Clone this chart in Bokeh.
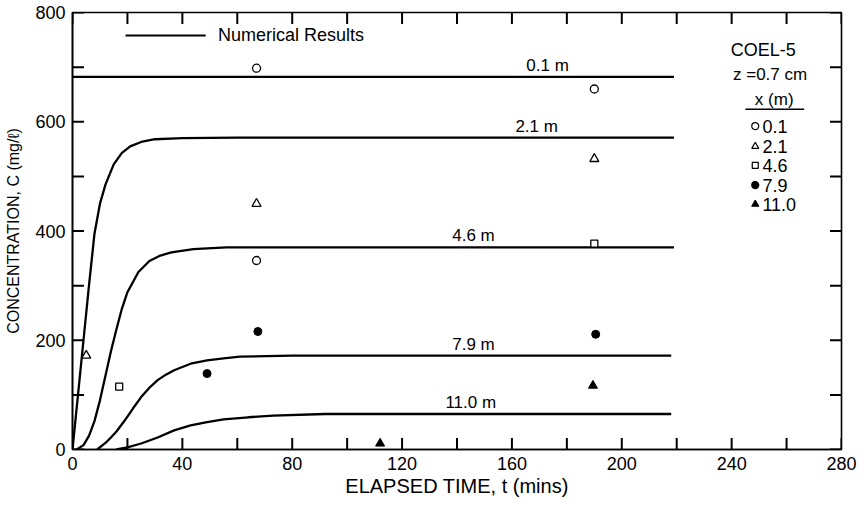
from bokeh.plotting import figure
from bokeh.models import FixedTicker, Range1d, ColumnDataSource
from bokeh.core.properties import value
from bokeh.embed import file_html
from bokeh.resources import INLINE

FONT = "Liberation Sans"

# ---- numerical results (concentration mg/l vs elapsed time, mins) ----
t_01 = [0, 219]
c_01 = [682, 682]

t_21 = [0, 2, 4, 6, 8, 10, 12, 15, 18, 21, 25, 30, 40, 60, 219]
c_21 = [0, 100, 200, 300, 395, 450, 485, 522, 543, 555, 563, 568, 570, 571, 571]

t_46 = [1.5, 4, 6, 8, 10, 12, 14, 16, 18, 20, 24, 28, 32, 36, 44, 56, 219]
c_46 = [0, 8, 25, 52, 90, 135, 180, 220, 258, 288, 325, 345, 355, 361, 367, 370, 370]

t_79 = [9, 12, 14, 16, 19, 22, 25, 28, 31, 34, 37, 43, 49, 55, 61, 80, 218]
c_79 = [0, 12, 22, 33, 53, 75, 96, 113, 127, 137, 145, 157, 163, 167, 170, 172, 172]

t_110 = [16, 20, 25, 31, 37, 43, 49, 55, 64, 73, 92, 110, 218]
c_110 = [0, 4, 11, 22, 35, 44, 50, 55, 59, 62, 65, 65, 65]

curve_names = ["0.1 m", "2.1 m", "4.6 m", "7.9 m", "11.0 m"]
curve_label_t = [173, 169, 146, 146, 145]

# ---- measured points ----
open_circle_t = [67, 190, 67]
open_circle_c = [698, 660, 346]
open_tri_t = [5, 67, 190]
open_tri_c = [172, 450, 532]
open_sq_t = [17, 190]
open_sq_c = [115, 377]
fill_circle_t = [49, 67.5, 190.5]
fill_circle_c = [139, 216, 211]
fill_tri_t = [112, 189.5]
fill_tri_c = [11, 117]

x_ticks = [0, 40, 80, 120, 160, 200, 240, 280]
x_minor = [20, 60, 100, 140, 180, 220, 260]
y_ticks = [0, 200, 400, 600, 800]
y_minor = [100, 300, 500, 700]

legend_x_labels = ["0.1", "2.1", "4.6", "7.9", "11.0"]

X_MAX, Y_MAX = 280, 800
TICK_X = 4.2    # inward tick length in x units (~11-12 px)
TICK_Y = 21     # inward tick length in y units (~11-12 px)

p = figure(width=864, height=505, x_range=Range1d(0, X_MAX), y_range=Range1d(0, Y_MAX),
           output_backend="svg", toolbar_location=None,
           min_border_left=72, min_border_right=23, min_border_top=12, min_border_bottom=56)
p.xgrid.visible = False
p.ygrid.visible = False
p.outline_line_color = "black"
p.outline_line_width = 1.6
p.background_fill_color = "white"
p.border_fill_color = "white"

def style_axis(ax):
    ax.axis_line_color = "black"
    ax.axis_line_width = 1.6
    ax.major_tick_in = 0
    ax.major_tick_out = 0
    ax.minor_tick_in = 0
    ax.minor_tick_out = 0
    ax.major_label_text_font = FONT
    ax.major_label_text_font_size = "18px"
    ax.major_label_text_color = "black"
    ax.axis_label_text_font = FONT
    ax.axis_label_text_font_style = "normal"
    ax.axis_label_text_color = "black"

xa = p.xaxis[0]
xa.ticker = FixedTicker(ticks=x_ticks, minor_ticks=x_minor)
style_axis(xa)
xa.major_label_standoff = 7
xa.axis_label = "ELAPSED TIME, t (mins)"
xa.axis_label_text_font_size = "20px"
xa.axis_label_standoff = 2

ya = p.yaxis[0]
ya.ticker = FixedTicker(ticks=y_ticks, minor_ticks=y_minor)
style_axis(ya)
ya.major_label_standoff = 7
ya.axis_label = "CONCENTRATION, C (mg/ℓ)"
ya.axis_label_text_font_size = "16px"
ya.axis_label_standoff = 10

# inward ticks on all four sides of the frame
all_t = sorted(x_ticks + x_minor)
all_c = sorted(y_ticks + y_minor)
tick_src_bottom = ColumnDataSource(dict(x0=all_t, y0=[0] * len(all_t), x1=all_t, y1=[TICK_Y] * len(all_t)))
tick_src_top = ColumnDataSource(dict(x0=all_t, y0=[Y_MAX] * len(all_t), x1=all_t, y1=[Y_MAX - TICK_Y] * len(all_t)))
tick_src_left = ColumnDataSource(dict(x0=[0] * len(all_c), y0=all_c, x1=[TICK_X] * len(all_c), y1=all_c))
tick_src_right = ColumnDataSource(dict(x0=[X_MAX] * len(all_c), y0=all_c, x1=[X_MAX - TICK_X] * len(all_c), y1=all_c))
for src in (tick_src_bottom, tick_src_top, tick_src_left, tick_src_right):
    p.segment(x0="x0", y0="y0", x1="x1", y1="y1", source=src, line_color="black", line_width=2)

# curves
curves = [(t_01, c_01), (t_21, c_21), (t_46, c_46), (t_79, c_79), (t_110, c_110)]
for (tt, cc) in curves:
    p.line(tt, cc, line_color="black", line_width=2.3)

# curve labels
lab_src = ColumnDataSource(dict(x=curve_label_t, y=[cc[-1] for _, cc in curves], t=curve_names))
p.text(x="x", y="y", text="t", source=lab_src, text_font=value(FONT), text_font_size="17px",
       text_align="center", text_baseline="bottom", y_offset=-2, text_color="black")

# measured points
p.scatter(open_circle_t, open_circle_c, marker="circle", size=8, fill_color="white",
          line_color="black", line_width=1.3)
p.scatter(open_tri_t, open_tri_c, marker="triangle", size=9, fill_color="white",
          line_color="black", line_width=1.3)
p.scatter(open_sq_t, open_sq_c, marker="square", size=7, fill_color="white",
          line_color="black", line_width=1.3)
p.scatter(fill_circle_t, fill_circle_c, marker="circle", size=8, fill_color="black",
          line_color="black")
p.scatter(fill_tri_t, fill_tri_c, marker="triangle", size=9, fill_color="black",
          line_color="black")

# legend: numerical results
p.line([19.3, 48.5], [758, 758], line_color="black", line_width=2)
p.text(x=[53], y=[758], text=["Numerical Results"], text_font=value(FONT),
       text_font_size="18px", text_baseline="middle", text_color="black")

# right-side key
p.text(x=[251.5], y=[731], text=["COEL-5"], text_font=value(FONT), text_font_size="18px",
       text_align="center", text_baseline="middle", text_color="black")
p.text(x=[254], y=[687], text=["z =0.7 cm"], text_font=value(FONT), text_font_size="17px",
       text_align="center", text_baseline="middle", text_color="black")
p.text(x=[255.5], y=[641], text=["x (m)"], text_font=value(FONT), text_font_size="17px",
       text_align="center", text_baseline="middle", text_color="black")
p.line([245, 266.4], [623, 623], line_color="black", line_width=1.5)

key_y = [592, 555, 520, 484, 449]
key_markers = [("circle", "white", 7), ("triangle", "white", 7), ("square", "white", 6),
               ("circle", "black", 7), ("triangle", "black", 7)]
for yy, (mk, fc, sz) in zip(key_y, key_markers):
    p.scatter([248.6], [yy], marker=mk, size=sz, fill_color=fc, line_color="black", line_width=1.2)
p.text(x=[251.2] * 5, y=key_y, text=legend_x_labels, text_font=value(FONT), text_font_size="18px",
       text_baseline="middle", text_color="black")

open("out.html", "w").write(file_html(p, INLINE))
